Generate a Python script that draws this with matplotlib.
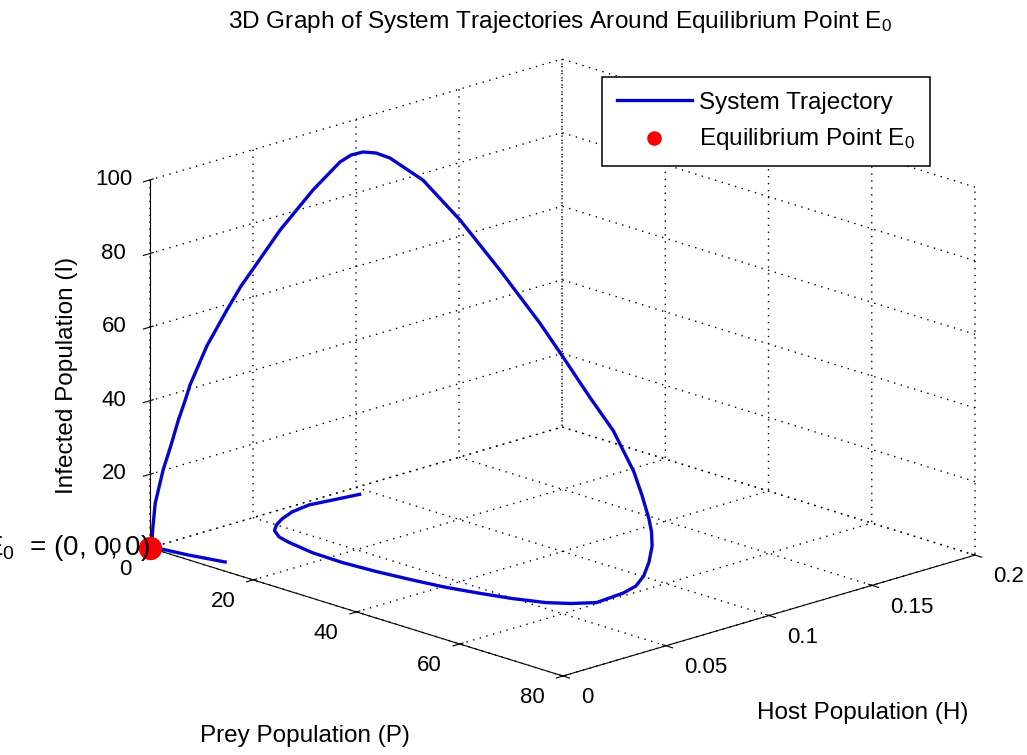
import matplotlib
matplotlib.use('Agg')
import matplotlib.pyplot as plt

# trajectory (P = prey, H = host, I = infected)
P = [7.28, 5.98, 4.73, 4.90, 5.85, 7.02, 8.51, 10.99, 13.64, 19.33, 25.25, 31.2, 37.05,
     42.59, 47.71, 52.69, 57.17, 60.09, 62.54, 62.6, 62.0, 60.0, 56.6, 52.53, 51.58, 50.95,
     49.56, 47.81, 44.47, 41.39, 36.9, 33.6, 28.0, 22.6, 17.7, 13.8, 12.06, 11.1, 10.47,
     9.9, 8.5, 6.8, 5.6, 4.74, 4.0, 2.97, 2.1, 1.80, 1.48, 1.09, 0.7, 0.3, 0.16, 0.1, 0.05,
     5.8, 11.6]
H = [0.0835, 0.0739, 0.0653, 0.0567, 0.0494, 0.0438, 0.0391, 0.0351, 0.0332, 0.0307,
     0.0303, 0.0315, 0.0336, 0.0360, 0.0396, 0.0437, 0.0488, 0.0538, 0.0600, 0.0729,
     0.0805, 0.0893, 0.1004, 0.1121, 0.1142, 0.1145, 0.1146, 0.1150, 0.1135, 0.1097,
     0.1080, 0.1050, 0.0997, 0.0939, 0.0881, 0.0819, 0.0795, 0.0756, 0.0714, 0.0674,
     0.0579, 0.0462, 0.0380, 0.0323, 0.0273, 0.0202, 0.0142, 0.0123, 0.0101, 0.0075,
     0.0046, 0.0018, 0.0011, 0.0007, 0.0003, 0.0038, 0.0074]
I = [4.0, 3.5, 3.0, 2.6, 2.3, 2.1, 2.0, 2.0, 2.0, 2.0, 2.0, 2.0, 2.0, 2.0, 2.0, 2.0, 2.0,
     2.2, 2.5, 3.0, 3.4, 3.8, 4.3, 5.0, 8.0, 11.3, 17.1, 22.7, 32.5, 41.0, 50.2, 58.5, 71.3,
     83.5, 93.2, 98.5, 99.5, 100.0, 99.6, 98.1, 91.5, 81.8, 73.6, 67.9, 61.9, 52.9, 42.9,
     38.4, 33.8, 27.2, 20.7, 12.0, 6.1, 2.1, 0.3, 0.0, 0.0]

# equilibrium point E0
E0 = (0, 0, 0)

p_ticks = [0, 20, 40, 60, 80]
h_ticks = [0, 0.05, 0.1, 0.15, 0.2]
h_labels = ['0', '0.05', '0.1', '0.15', '0.2']
i_ticks = [0, 20, 40, 60, 80, 100]

plt.rcParams['font.family'] = ['Liberation Sans', 'DejaVu Sans']
plt.rcParams['mathtext.fontset'] = 'custom'
plt.rcParams['mathtext.rm'] = 'Liberation Sans'
plt.rcParams['mathtext.it'] = 'Liberation Sans'
plt.rcParams['grid.color'] = 'black'
plt.rcParams['grid.linestyle'] = (0, (1, 4))
plt.rcParams['grid.linewidth'] = 1.0

fig = plt.figure(figsize=(10.27, 7.55), dpi=100)
ax = fig.add_axes([0.1977, 0.0371, 0.6816, 0.9272], projection='3d', proj_type='ortho')
ax.view_init(elev=17.56, azim=-44.2)
ax.set_box_aspect((1.5655, 1.519, 1.020), zoom=1.2636)
ax.computed_zorder = False

ax.plot(P, H, I, color='#0505cc', lw=2.4, label='System Trajectory', clip_on=False, zorder=2)
ax.scatter([E0[0]], [E0[1]], [E0[2]], s=250, c='red', edgecolors='red', clip_on=False,
           depthshade=False, label=r'Equilibrium Point E$_0$', zorder=3)
ax.text(E0[0], E0[1], E0[2], r'E$_0$  = (0, 0, 0)', ha='right', va='center', fontsize=20,
        zorder=4)

ax.set_xlim(0, 80)
ax.set_ylim(0, 0.2)
ax.set_zlim(0, 100)
ax.set_xticks(p_ticks)
ax.set_yticks(h_ticks)
ax.set_yticklabels(h_labels)
ax.set_zticks(i_ticks)
ax.tick_params(labelsize=16)
ax.zaxis.set_ticks_position('lower')

for t in ax.xaxis.get_ticklabels():
    t.set_ha('right')
    t.set_va('center')
for t in ax.yaxis.get_ticklabels():
    t.set_ha('left')
    t.set_va('center')
for t in ax.zaxis.get_ticklabels():
    t.set_va('center')

for axis in (ax.xaxis, ax.yaxis, ax.zaxis):
    axis.set_pane_color((1, 1, 1, 0))

fig.text(305 / 1027, 1 - 736 / 755, 'Prey Population (P)', ha='center', va='center', fontsize=17.5)
fig.text(863 / 1027, 1 - 713 / 755, 'Host Population (H)', ha='center', va='center', fontsize=17.5)
fig.text(67 / 1027, 1 - 375 / 755, 'Infected Population (I)', ha='center', va='center',
         rotation=90, fontsize=17.5)

fig.text(560 / 1027, 1 - 22 / 755, r'3D Graph of System Trajectories Around Equilibrium Point E$_0$',
         ha='center', va='center', fontsize=17.6)

leg = ax.legend(loc='upper left', bbox_to_anchor=(602 / 1027, 1 - 77 / 755),
                bbox_transform=fig.transFigure, borderaxespad=0, fancybox=False,
                edgecolor='black', framealpha=1, fontsize=17.5, handlelength=3.1,
                handletextpad=0.3, borderpad=0.6, labelspacing=0.5, markerscale=0.6)
leg.get_frame().set_linewidth(1.1)

fig.savefig('out.png', dpi=100)
